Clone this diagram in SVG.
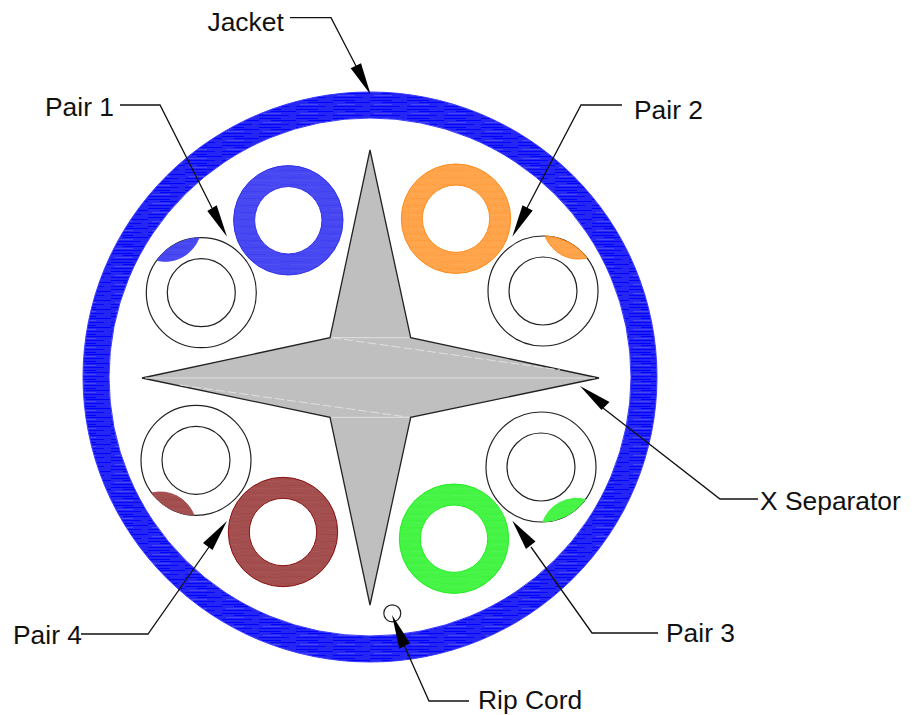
<svg xmlns="http://www.w3.org/2000/svg" width="918" height="715" viewBox="0 0 918 715">
<style>
.lbl{font-family:"Liberation Sans",Arial,sans-serif;font-size:26.4px;fill:#111}
.lead{fill:none;stroke:#111;stroke-width:1.3}
.ol{fill:#fff;stroke:#222;stroke-width:1.2}
.hair{stroke:#e0e0e0;stroke-width:1;fill:none}
.dash{stroke:#e0e0e0;stroke-width:1;fill:none;stroke-dasharray:9 3}
.ring{fill-rule:evenodd;stroke-width:1}
</style>
<defs>
<pattern id="pJ" width="37" height="9" patternUnits="userSpaceOnUse">
<rect width="37" height="9" fill="#2626f4"/>
<rect y="1" width="22" height="1" fill="#0000ff"/><rect x="12" y="3" width="25" height="1" fill="#0000ff"/>
<rect x="4" y="5" width="18" height="1" fill="#4646f2"/><rect y="7" width="30" height="1" fill="#0505ff"/>
</pattern>
<pattern id="pB" width="40" height="7" patternUnits="userSpaceOnUse"><rect width="40" height="7" fill="#4848f2"/><rect y="2" width="26" height="1" fill="#4040f0"/><rect x="10" y="5" width="30" height="1" fill="#5050f0"/></pattern>
<pattern id="pO" width="40" height="7" patternUnits="userSpaceOnUse"><rect width="40" height="7" fill="#ffa44b"/><rect y="2" width="26" height="1" fill="#fd9e40"/><rect x="10" y="5" width="30" height="1" fill="#ffa950"/></pattern>
<pattern id="pR" width="40" height="7" patternUnits="userSpaceOnUse"><rect width="40" height="7" fill="#a44f4f"/><rect y="2" width="26" height="1" fill="#9f4949"/><rect x="10" y="5" width="30" height="1" fill="#a95555"/></pattern>
<pattern id="pG" width="40" height="7" patternUnits="userSpaceOnUse"><rect width="40" height="7" fill="#45f445"/><rect y="2" width="26" height="1" fill="#3ef23e"/><rect x="10" y="5" width="30" height="1" fill="#4ef54e"/></pattern>
</defs>
<rect width="918" height="715" fill="#fff"/>

<g id="jacket">
<path class="ring" fill="url(#pJ)" stroke="#3a3aff" d="M83 377a287 285 0 1 0 574 0a287 285 0 1 0-574 0ZM109 377a261 259 0 1 1 522 0a261 259 0 1 1-522 0Z"/>
</g>

<g id="separator">
<path d="M370 150L410.7 337.7L599 378L410.7 417.3L370 605L330 417.3L142 378L330 337.7Z" fill="#bfbfbf" stroke="#222" stroke-width="1.3" stroke-linejoin="miter"/>
<path class="hair" d="M145 378H595M332 337.7H409M332 417.3H409"/>
<path class="dash" d="M332 337.7L560 370M180 385L409 417.3"/>
</g>

<g id="pair1">
<path class="ring" fill="url(#pB)" stroke="#3030e8" d="M233.6 220.3a54.7 54.7 0 1 0 109.4 0a54.7 54.7 0 1 0-109.4 0ZM254.6 220.3a33.7 33.7 0 1 1 67.4 0a33.7 33.7 0 1 1-67.4 0Z"/>
<circle class="ol" cx="201.3" cy="292.7" r="55"/>
<circle class="ol" cx="201.3" cy="292.7" r="34"/>
<path d="M198.99 237.75A55 55 0 0 0 156.81 260.36A36 36 0 0 0 198.99 237.75Z" fill="url(#pB)" stroke="#4848f2" stroke-width="1"/>
</g>
<g id="pair2">
<path class="ring" fill="url(#pO)" stroke="#ff8c1a" d="M401.3 218.7a54.7 54.7 0 1 0 109.4 0a54.7 54.7 0 1 0-109.4 0ZM422.3 218.7a33.7 33.7 0 1 1 67.4 0a33.7 33.7 0 1 1-67.4 0Z"/>
<circle class="ol" cx="543" cy="291" r="55"/>
<circle class="ol" cx="543" cy="291" r="34"/>
<path d="M545 235.96A55 55 0 0 1 587.06 258.08A36 36 0 0 1 545 235.96Z" fill="url(#pO)" stroke="#ff8c1a" stroke-width="1"/>
</g>
<g id="pair3">
<path class="ring" fill="url(#pG)" stroke="#22ee22" d="M399.3 538.7a54.7 54.7 0 1 0 109.4 0a54.7 54.7 0 1 0-109.4 0ZM420.3 538.7a33.7 33.7 0 1 1 67.4 0a33.7 33.7 0 1 1-67.4 0Z"/>
<circle class="ol" cx="541" cy="467" r="55"/>
<circle class="ol" cx="541" cy="467" r="34"/>
<path d="M542.71 521.97A55 55 0 0 0 585.38 499.49A36 36 0 0 0 542.71 521.97Z" fill="url(#pG)" stroke="#45f445" stroke-width="1"/>
</g>
<g id="pair4">
<path class="ring" fill="url(#pR)" stroke="#8b1010" d="M228.3 532a54.7 54.7 0 1 0 109.4 0a54.7 54.7 0 1 0-109.4 0ZM249.3 532a33.7 33.7 0 1 1 67.4 0a33.7 33.7 0 1 1-67.4 0Z"/>
<circle class="ol" cx="196" cy="460.3" r="55"/>
<circle class="ol" cx="196" cy="460.3" r="34"/>
<path d="M151.77 492.99A55 55 0 0 0 194 515.26A36 36 0 0 0 151.77 492.99Z" fill="url(#pR)" stroke="#a44f4f" stroke-width="1"/>
</g>
<g id="ripcord">
<circle class="ol" cx="392.3" cy="613.3" r="8.5"/>
</g>

<g id="connectors">
<path class="lead" d="M290 17.7H331L356 66"/>
<path d="M370.7 94.7L350.7 68.3L361 63.3Z" fill="#000"/>
<path class="lead" d="M120 105H160L212 208"/>
<path d="M227 236.7L207.3 211L216.7 205.3Z" fill="#000"/>
<path class="lead" d="M622 105H581L527 208"/>
<path d="M512.3 236.7L522.5 205.3L532.7 210.5Z" fill="#000"/>
<path class="lead" d="M81 634H148L209 547"/>
<path d="M227 521L203 543L212.5 550Z" fill="#000"/>
<path class="lead" d="M658 633H592L531 547"/>
<path d="M512.3 520.7L535.5 541.5L526 549Z" fill="#000"/>
<path class="lead" d="M758 499H720L603 408"/>
<path d="M580 386L609.5 402L601.5 410Z" fill="#000"/>
<path class="lead" d="M469 701H429L404 645"/>
<path d="M392 615L410 643.3L399.3 648.7Z" fill="#000"/>
</g>

<g id="labels">
<text class="lbl" x="207.5" y="31">Jacket</text>
<text class="lbl" x="45" y="116">Pair 1</text>
<text class="lbl" x="634" y="119">Pair 2</text>
<text class="lbl" x="760" y="510">X Separator</text>
<text class="lbl" x="666" y="642">Pair 3</text>
<text class="lbl" x="13" y="643.5">Pair 4</text>
<text class="lbl" x="478" y="709.4">Rip Cord</text>
</g>
</svg>
